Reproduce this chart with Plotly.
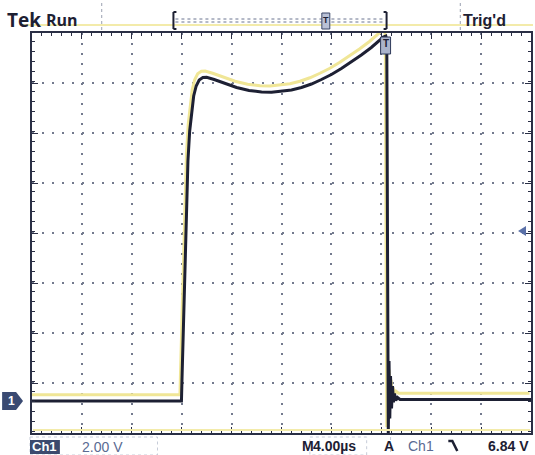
import plotly.graph_objects as go

# ---- data: channel 1 waveform (time in microseconds, volts) ----
time_us = [0.0, 11.98, 12.02, 12.08, 12.16, 12.26, 12.38, 12.5, 12.64, 12.8, 12.96,
           13.16, 13.4, 13.7, 14.0, 14.6, 15.4, 16.4, 17.4, 18.4, 19.2, 20.0, 20.8,
           21.6, 22.4, 23.2, 24.0, 24.8, 25.6, 26.4, 27.2, 27.8, 28.16, 28.36, 28.44,
           28.5, 28.56, 28.62, 28.68, 28.74, 28.82, 28.9, 28.98, 29.06, 29.16, 29.3,
           29.5, 40.0]
volts = [0.0, 0.0, 0.8, 2.0, 4.0, 6.0, 8.0, 9.6, 10.8, 11.6, 12.2,
         12.6, 12.84, 12.94, 12.95, 12.86, 12.72, 12.54, 12.42, 12.36, 12.35, 12.38, 12.44,
         12.54, 12.68, 12.86, 13.06, 13.3, 13.56, 13.84, 14.14, 14.4, 14.56, 14.6, 14.4,
         6.0, -1.3, 1.6, -0.7, 1.0, -0.3, 0.6, -0.05, 0.3, 0.02, 0.14,
         0.06, 0.06]

header_left = ["Tek", "Run"]
header_right = "Trig'd"
status_ch = "Ch1"
status_scale = "2.00 V"
status_time = ["M", "4.00µs"]
status_trig = ["A", "Ch1", "6.84 V"]

# ---- layout constants ----
W, H = 535, 455
L, R, T, B = 32, 533, 33, 433
XR = [0, 40]
YR = [-1.28, 14.72]

GHOST_DV = 0.25   # print mis-registration of yellow copy
GHOST_DT = -0.12

def px(x):
    return (x - L) / (R - L)

def py(y):
    return (B - y) / (B - T)

NAVY = "#1d2033"
BLUEGRAY = "#5a6a92"

fig = go.Figure()

fig.add_trace(go.Scatter(
    x=[t + GHOST_DT for t in time_us], y=[v + GHOST_DV for v in volts],
    mode="lines", line=dict(color="#f0e696", width=3), hoverinfo="skip", showlegend=False))
fig.add_trace(go.Scatter(
    x=time_us, y=volts, mode="lines",
    line=dict(color=NAVY, width=3), showlegend=False))

axis_common = dict(showticklabels=False, zeroline=False, showline=True, mirror="allticks",
                   linecolor="#2a2f45", linewidth=2, ticks="inside", ticklen=6, tickwidth=1,
                   tickcolor="#2a2f45", showgrid=True, gridcolor="#737a8e", gridwidth=2,
                   griddash="2px,8px", fixedrange=True)

fig.update_xaxes(range=XR, tick0=0, dtick=4,
                 minor=dict(dtick=0.8, ticks="inside", ticklen=3, tickcolor="#2a2f45", showgrid=False),
                 **axis_common)
fig.update_yaxes(range=YR, tick0=YR[0], dtick=2,
                 minor=dict(dtick=0.4, ticks="inside", ticklen=3, tickcolor="#2a2f45", showgrid=False),
                 **axis_common)

shapes = []
ann = []

def line(x0, y0, x1, y1, color, width=1, dash="solid"):
    shapes.append(dict(type="line", xref="paper", yref="paper",
                       x0=px(x0), y0=py(y0), x1=px(x1), y1=py(y1),
                       line=dict(color=color, width=width, dash=dash)))

def rect(x0, y0, x1, y1, fill, color=None, width=0, dash="solid"):
    shapes.append(dict(type="rect", xref="paper", yref="paper",
                       x0=px(x0), y0=py(y0), x1=px(x1), y1=py(y1), fillcolor=fill,
                       line=dict(color=color or fill, width=width, dash=dash)))

def path(pts, fill, color=None, width=0):
    d = "M " + " L ".join(f"{px(a)},{py(b)}" for a, b in pts) + " Z"
    shapes.append(dict(type="path", xref="paper", yref="paper", path=d,
                       fillcolor=fill, line=dict(color=color or fill, width=width)))

def text(s, x, y, size, color=NAVY, bold=False, anchor="left", family="Liberation Sans"):
    ann.append(dict(text=f"<b>{s}</b>" if bold else s, xref="paper", yref="paper",
                    x=px(x), y=py(y), xanchor=anchor, yanchor="middle", showarrow=False,
                    font=dict(size=size, color=color, family=family)))

# stray yellow print lines
line(20, 25, 535, 25, "#f3ebaa", 2)
line(33, 430, 532, 430, "#f3ebaa", 2)

# header
text(header_left[0], 5, 20, 19, NAVY, True, family="Open Sans")
text(header_left[1], 44, 20, 16, NAVY, True, family="Open Sans")
line(102, 3, 102, 31, "#9aa0b0", 1, "dot")
line(462, 3, 462, 31, "#9aa0b0", 1, "dot")
text(header_right, 463, 20, 16, NAVY, True)

# record bracket
line(174, 12, 174, 29, NAVY, 2)
line(174, 12, 177, 12, NAVY, 2)
line(174, 29, 177, 29, NAVY, 2)
line(388, 12, 388, 29, NAVY, 2)
line(385, 12, 388, 12, NAVY, 2)
line(385, 29, 388, 29, NAVY, 2)
line(176, 19, 386, 19, "#6a7490", 1, "dot")
line(176, 22, 386, 22, "#6a7490", 1, "dot")
rect(323, 13, 331, 29, "#b9c1d6", "#3a4668", 1)
text("T", 327, 20, 9, NAVY, True, "center")

# trigger position marker (top)
rect(382, 37, 392, 54, "#aab3cb", "#2f3a5a", 1)
text("T", 387, 44, 10, NAVY, True, "center")

# channel 1 ground marker
path([(2, 392), (16, 392), (23, 401), (16, 410), (2, 410)], "#3a4a72")
text("1", 11, 401, 12, "white", True, "center")

# trigger level marker (right)
path([(520, 231), (528, 226), (528, 236)], "#5a70a8")

# status bar
rect(30, 437, 158, 455, "rgba(0,0,0,0)", "#c7ccd8", 1, "dot")
rect(30, 440, 60, 454, "#3c4a6e")
text(status_ch, 45, 447, 13, "white", True, "center")
text(status_scale, 80, 447, 14, BLUEGRAY)
text(status_time[0], 301, 446, 14, NAVY, True)
rect(311, 437, 368, 455, "rgba(0,0,0,0)", "#c7ccd8", 1, "dot")
text(status_time[1], 312, 446, 14, NAVY, True)
text(status_trig[0], 383, 446, 14, NAVY, True)
line(392, 437, 392, 455, "#c7ccd8", 1, "dot")
text(status_trig[1], 408, 446, 14, BLUEGRAY)
shapes.append(dict(type="path", xref="paper", yref="paper",
                   path=f"M {px(450)},{py(441)} L {px(454)},{py(441)} L {px(459)},{py(451)}",
                   line=dict(color=NAVY, width=2.5)))
text(status_trig[2], 533, 446, 14, NAVY, True, "right")

fig.update_layout(width=W, height=H, margin=dict(l=L, r=W - R, t=T, b=H - B),
                  paper_bgcolor="white", plot_bgcolor="white",
                  shapes=shapes, annotations=ann, showlegend=False)

fig.write_html("out.html")
